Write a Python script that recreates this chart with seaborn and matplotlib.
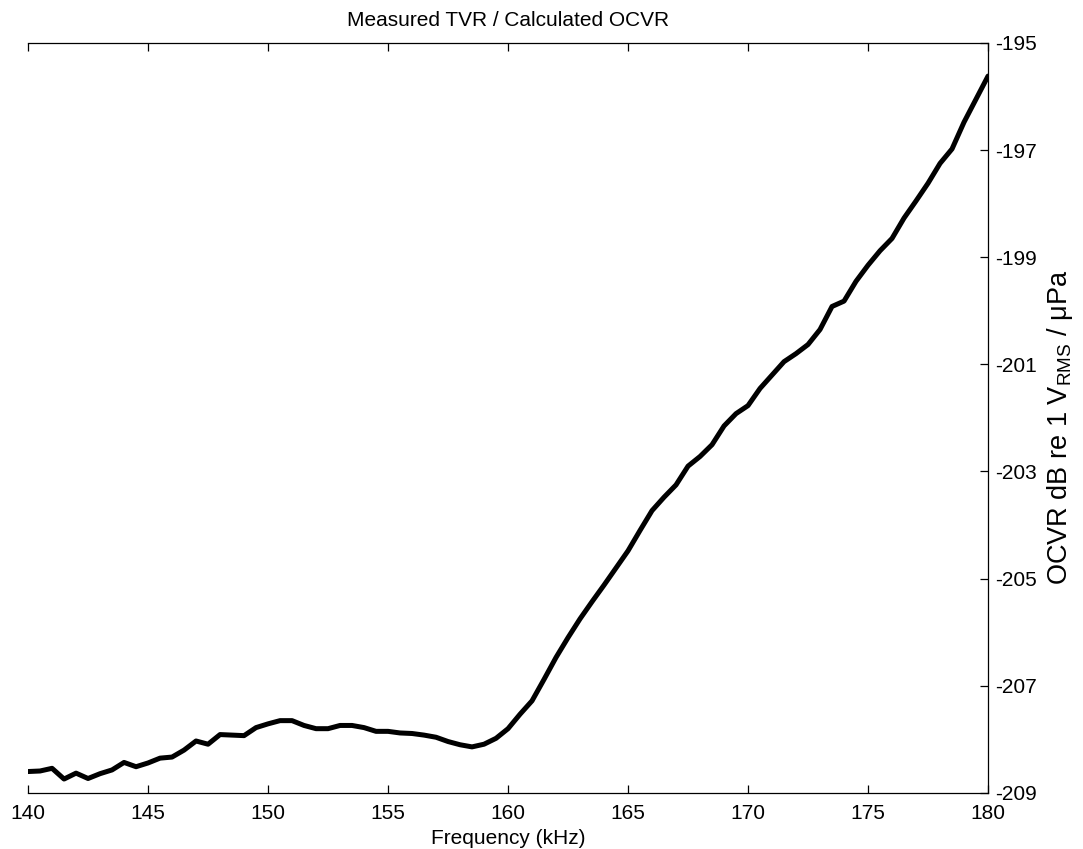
import numpy as np
import pandas as pd
import matplotlib
matplotlib.use("Agg")
import matplotlib.pyplot as plt
import seaborn as sns

# Frequency sweep (kHz), 0.5 kHz steps
freq_khz = [
    140.0, 140.5, 141.0, 141.5, 142.0, 142.5, 143.0, 143.5, 144.0, 144.5,
    145.0, 145.5, 146.0, 146.5, 147.0, 147.5, 148.0, 148.5, 149.0, 149.5,
    150.0, 150.5, 151.0, 151.5, 152.0, 152.5, 153.0, 153.5, 154.0, 154.5,
    155.0, 155.5, 156.0, 156.5, 157.0, 157.5, 158.0, 158.5, 159.0, 159.5,
    160.0, 160.5, 161.0, 161.5, 162.0, 162.5, 163.0, 163.5, 164.0, 164.5,
    165.0, 165.5, 166.0, 166.5, 167.0, 167.5, 168.0, 168.5, 169.0, 169.5,
    170.0, 170.5, 171.0, 171.5, 172.0, 172.5, 173.0, 173.5, 174.0, 174.5,
    175.0, 175.5, 176.0, 176.5, 177.0, 177.5, 178.0, 178.5, 179.0, 179.5,
    180.0,
]

# Open-circuit voltage response, dB re 1 V_RMS / uPa
ocvr_db = [
    -208.60, -208.59, -208.54, -208.74, -208.63, -208.73, -208.64, -208.57, -208.43, -208.51,
    -208.44, -208.35, -208.33, -208.20, -208.03, -208.09, -207.91, -207.92, -207.93, -207.78,
    -207.71, -207.65, -207.65, -207.74, -207.80, -207.80, -207.74, -207.74, -207.78, -207.85,
    -207.85, -207.88, -207.89, -207.92, -207.96, -208.04, -208.10, -208.14, -208.09, -207.98,
    -207.80, -207.53, -207.28, -206.88, -206.47, -206.10, -205.75, -205.43, -205.12, -204.80,
    -204.48, -204.10, -203.73, -203.48, -203.25, -202.90, -202.72, -202.50, -202.15, -201.92,
    -201.77, -201.45, -201.20, -200.95, -200.80, -200.63, -200.35, -199.92, -199.82, -199.45,
    -199.15, -198.88, -198.65, -198.27, -197.95, -197.62, -197.25, -196.98, -196.48, -196.05,
    -195.62,
]

x_ticks = [140, 145, 150, 155, 160, 165, 170, 175, 180]
y_ticks = [-195, -197, -199, -201, -203, -205, -207, -209]

sns.set_theme(style="white")
plt.rcParams["font.family"] = ["Liberation Sans", "DejaVu Sans"]
plt.rcParams["mathtext.fontset"] = "custom"
plt.rcParams["mathtext.rm"] = "Liberation Sans"
plt.rcParams["mathtext.it"] = "Liberation Sans:italic"
plt.rcParams["text.color"] = "black"
plt.rcParams["axes.labelcolor"] = "black"

df = pd.DataFrame({"freq": freq_khz, "ocvr": ocvr_db})

fig = plt.figure(figsize=(10.83, 8.49), dpi=100)
ax = fig.add_axes([0.0259, 0.066, 0.8864, 0.8835])

sns.lineplot(data=df, x="freq", y="ocvr", ax=ax, color="black", linewidth=3.6)

ax.set_xlim(140, 180)
ax.set_ylim(-209, -195)
ax.set_xticks(x_ticks)
ax.set_xticklabels([str(t) for t in x_ticks])
ax.set_yticks(y_ticks)
ax.set_yticklabels([str(t) for t in y_ticks])

# frame: top, right and bottom only
ax.spines["left"].set_visible(False)
for side in ("top", "right", "bottom"):
    ax.spines[side].set_visible(True)
    ax.spines[side].set_color("black")
    ax.spines[side].set_linewidth(0.9)

ax.yaxis.tick_right()
ax.yaxis.set_label_position("right")
ax.tick_params(axis="x", which="both", direction="in", length=6, width=0.9,
               top=True, bottom=True, labelsize=15, pad=8, colors="black")
ax.tick_params(axis="y", which="both", direction="in", length=6, width=0.9,
               left=False, right=True, labelleft=False, labelright=True,
               labelsize=15, pad=5, colors="black")

ax.set_xlabel("Frequency (kHz)", fontsize=15, labelpad=4)
ax.set_ylabel(r"OCVR dB re 1 V$_{\rm RMS}$ / μPa", fontsize=19.5, labelpad=6)
ax.yaxis.label.set_y(0.487)
ax.set_title("Measured TVR / Calculated OCVR", fontsize=15, pad=12)

fig.savefig("out.png", dpi=100, facecolor="white")
